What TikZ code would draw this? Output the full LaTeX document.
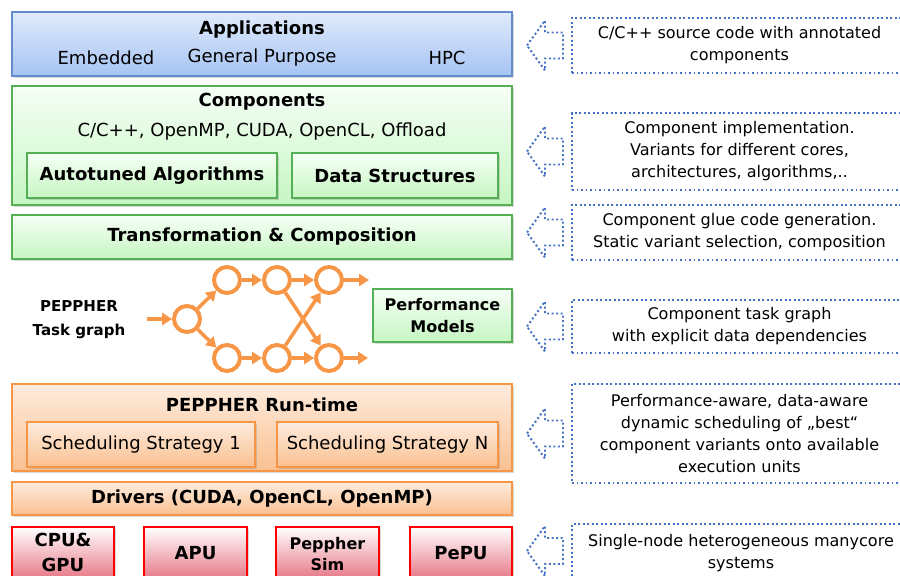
\documentclass[tikz,border=0pt]{standalone}
\usepackage{fontspec}
\setmainfont{DejaVu Sans}
\usetikzlibrary{fit,shadows,arrows.meta}
\definecolor{appsedge}{RGB}{100,140,205}
\definecolor{appstop}{RGB}{224,234,251}
\definecolor{appsbot}{RGB}{166,196,244}
\definecolor{compedge}{RGB}{85,175,85}
\definecolor{comptop}{RGB}{246,255,246}
\definecolor{compbot}{RGB}{198,246,194}
\definecolor{rtedge}{RGB}{247,150,70}
\definecolor{rttop}{RGB}{253,236,222}
\definecolor{rtbot}{RGB}{250,192,144}
\definecolor{hwedge}{RGB}{255,0,0}
\definecolor{hwbot}{RGB}{232,122,137}
\definecolor{hintblue}{RGB}{68,114,196}
\definecolor{taskorange}{RGB}{247,150,70}

\begin{document}
\begin{tikzpicture}[x=0.025cm,y=-0.025cm,
    every node/.style={inner sep=0pt,outer sep=0pt,font=\fontsize{12.8}{15.6}\selectfont},
    layer/.style={rectangle,line width=0.8pt,drop shadow={opacity=0.3,shadow xshift=1.4pt,shadow yshift=-1.4pt}},
    apps/.style={layer,draw=appsedge,top color=appstop,bottom color=appsbot},
    comp/.style={layer,draw=compedge,top color=comptop,bottom color=compbot},
    rt/.style={layer,draw=rtedge,top color=rttop,bottom color=rtbot},
    hw/.style={layer,draw=hwedge,top color=white,bottom color=hwbot},
    title/.style={font=\fontsize{12.8}{17.8}\selectfont\bfseries,align=center},
    small title/.style={font=\fontsize{11.4}{15.6}\selectfont\bfseries,align=center},
    hint/.style={draw=hintblue,line width=1.4pt,dash pattern=on 1.4pt off 1.8pt},
    hint text/.style={font=\fontsize{11.4}{15.6}\selectfont,align=center},
    task/.style={circle,draw=taskorange,line width=2.85pt,minimum size=0.65cm,outer sep=1.4pt},
    flow/.style={draw=taskorange,line width=2.5pt,-{Triangle[length=7pt,width=8.5pt]}}]

  \clip (0,0) rectangle (900,576);

  \node[apps,fit={(12,12)(512,76)}] (apps) {};
  \node[title] (appstitle) at (262,30) {Applications};
  \node (embedded) at (106,58) {Embedded};
  \node (general) at (262,58) {General Purpose};
  \node (hpc) at (447,58) {HPC};

  \node[comp,fit={(12,86)(512,205)}] (comps) {};
  \node[title] (compstitle) at (262,102) {Components};
  \node (langs) at (262,132) {C/C++, OpenMP, CUDA, OpenCL, Offload};
  \node[comp,fit={(27,153)(277,198)}] (algos) {};
  \node[title] at (algos) {Autotuned Algorithms};
  \node[comp,fit={(292,153)(498,198)}] (datas) {};
  \node[title] at (datas) {Data Structures};

  \node[comp,fit={(12,215)(512,259)}] (trans) {};
  \node[title] at (trans) {Transformation \& Composition};

  \node[title,font=\fontsize{10.7}{17}\selectfont\bfseries] (tglabel) at (79,320) {PEPPHER\\Task graph};
  \node[task] (t0) at (187,319) {};
  \node[task] (t1) at (227,280) {};
  \node[task] (t2) at (277,280) {};
  \node[task] (t3) at (329,280) {};
  \node[task] (b1) at (227,358) {};
  \node[task] (b2) at (277,358) {};
  \node[task] (b3) at (329,358) {};
  \coordinate (tin) at (147,319);
  \coordinate (tout) at (369,280);
  \coordinate (bout) at (368,358);
  \draw[flow] (tin) -- (t0);
  \draw[flow] (t0) -- (t1);
  \draw[flow] (t0) -- (b1);
  \draw[flow] (t1) -- (t2);
  \draw[flow] (t2) -- (t3);
  \draw[flow] (b1) -- (b2);
  \draw[flow] (b2) -- (b3);
  \draw[flow] (t2) -- (b3);
  \draw[flow] (b2) -- (t3);
  \draw[flow] (t3) -- (tout);
  \draw[flow] (b3) -- (bout);

  \node[comp,fit={(373,289)(512,342)}] (perf) {};
  \node[small title] at (perf) {Performance\\Models};

  \node[rt,fit={(12,384)(512,471)}] (runtime) {};
  \node[title] (rttitle) at (262,405) {PEPPHER Run-time};
  \node[rt,fit={(27,422)(255,467)}] (sched1) {};
  \node at (sched1) {Scheduling Strategy 1};
  \node[rt,fit={(277,422)(498,467)}] (schedn) {};
  \node at (schedn) {Scheduling Strategy N};

  \node[rt,fit={(12,482)(512,515)}] (drivers) {};
  \node[title] at (drivers) {Drivers (CUDA, OpenCL, OpenMP)};

  \node[hw,fit={(12,527)(114,578)}] (cpugpu) {};
  \node[title] at (63,552.5) {CPU\&\\GPU};
  \node[hw,fit={(144,527)(247,578)}] (apu) {};
  \node[title] at (195.5,553) {APU};
  \node[hw,fit={(276,527)(379,578)}] (sim) {};
  \node[small title] at (327.5,554) {Peppher\\Sim};
  \node[hw,fit={(410,527)(512,578)}] (pepu) {};
  \node[title] at (461,553) {PePU};

  \node[hint,fit={(572,18)(907,73)}] (h1) {};
  \node[hint text] at (h1) {C/C++ source code with annotated\\components};
  \node[hint,fit={(572,113)(907,190)}] (h2) {};
  \node[hint text] at (h2) {Component implementation.\\Variants for different cores,\\architectures, algorithms,..};
  \node[hint,fit={(572,205)(907,260)}] (h3) {};
  \node[hint text] at (h3) {Component glue code generation.\\Static variant selection, composition};
  \node[hint,fit={(572,300)(907,353)}] (h4) {};
  \node[hint text] at (h4) {Component task graph\\with explicit data dependencies};
  \node[hint,fit={(572,384)(907,483)}] (h5) {};
  \node[hint text] at (h5) {Performance-aware, data-aware\\dynamic scheduling of „best“\\component variants onto available\\execution units};
  \node[hint,fit={(572,524)(907,600)}] (h6) {};
  \node[hint text] at (741,553) {Single-node heterogeneous manycore\\systems};

  \foreach \y in {45.5,151.5,232.5,326.5,433.5,551}
    \draw[hint] (527,\y) -- (545,\y-25) -- (545,\y-13) -- (563,\y-13)
      -- (563,\y+13) -- (545,\y+13) -- (545,\y+25) -- cycle;
\end{tikzpicture}
\end{document}
